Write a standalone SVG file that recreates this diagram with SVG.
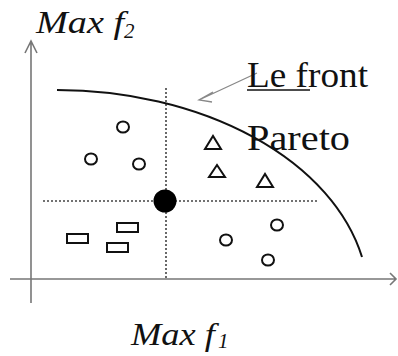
<svg xmlns="http://www.w3.org/2000/svg" width="398" height="356" viewBox="0 0 398 356">
<style>
.axis{stroke:#777;stroke-width:1.6;fill:none}
.dot{stroke:#444;stroke-width:1.6;stroke-dasharray:2,2;fill:none}
.pt{stroke:#111;stroke-width:2;fill:none}
.lbl{font-family:"Liberation Serif","Times New Roman",serif;fill:#111}
.it{font-style:italic}
</style>
<rect width="398" height="356" fill="#fff"/>
<g id="connectors">
<path class="axis" d="M31,303 V41 M25,53 L31,41 L37,53"/>
<path class="axis" d="M10,279 H396 M390,273 L396,279 L390,285"/>
<path class="dot" d="M166,88 V279"/>
<path class="dot" d="M43,201 H319"/>
<path id="front" d="M57,90 A312,210 0 0 1 362,257" stroke="#111" stroke-width="2" fill="none"/>
<path d="M257,73 L199,100 M213,92 L199,100 L212,102" stroke="#888" stroke-width="1.3" fill="none"/>
</g>
<g id="point-ideal"><circle cx="165" cy="201" r="11.5" fill="#000"/></g>
<g id="circles">
<ellipse class="pt" cx="123" cy="127" rx="6" ry="5.5"/>
<ellipse class="pt" cx="91" cy="159" rx="6" ry="5.5"/>
<ellipse class="pt" cx="139" cy="164" rx="6" ry="5.5"/>
<ellipse class="pt" cx="277" cy="225" rx="6" ry="5.5"/>
<ellipse class="pt" cx="226" cy="240" rx="6" ry="5.5"/>
<ellipse class="pt" cx="268" cy="260" rx="6" ry="5.5"/>
</g>
<g id="triangles">
<polygon class="pt" points="205,149 221,149 213,136"/>
<polygon class="pt" points="209,177 225,177 217,165"/>
<polygon class="pt" points="257,187 273,187 265,174"/>
</g>
<g id="rects">
<rect class="pt" x="67" y="234" width="21" height="9"/>
<rect class="pt" x="117" y="223" width="21" height="9"/>
<rect class="pt" x="107" y="243" width="21" height="9"/>
</g>
<g id="label-f2">
<text class="lbl it" x="36" y="33" font-size="32" textLength="88" lengthAdjust="spacingAndGlyphs">Max f</text>
<text class="lbl it" x="124" y="38" font-size="21">2</text>
</g>
<g id="label-f1">
<text class="lbl it" x="131" y="345" font-size="32" textLength="84" lengthAdjust="spacingAndGlyphs">Max f</text>
<text class="lbl it" x="218" y="348" font-size="21">1</text>
</g>
<g id="label-front">
<text class="lbl" x="247" y="87" font-size="36" textLength="121" lengthAdjust="spacingAndGlyphs">Le front</text>
<line x1="247" y1="90" x2="310" y2="90" stroke="#111" stroke-width="1.6"/>
<text class="lbl" x="247" y="150" font-size="36" textLength="103" lengthAdjust="spacingAndGlyphs">Pareto</text>
</g>
</svg>
